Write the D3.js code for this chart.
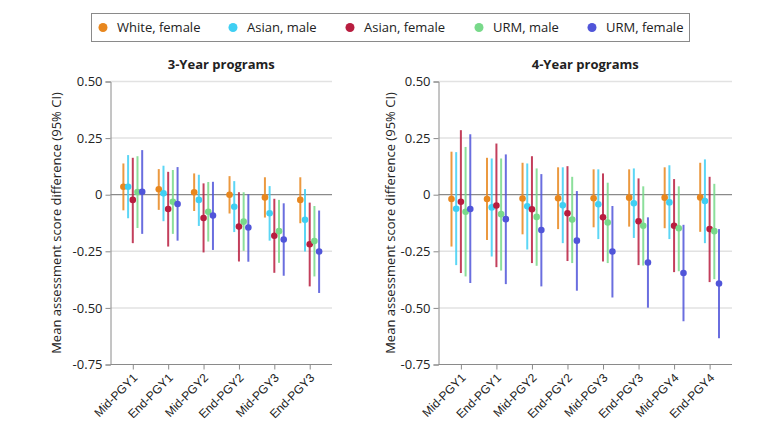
<!DOCTYPE html>
<html><head><meta charset="utf-8">
<script src="https://cdn.jsdelivr.net/npm/d3@7/dist/d3.min.js"></script>
<style>body{margin:0;background:#fff;}svg{display:block;font-family:"Open Sans",sans-serif;}</style>
</head><body><svg id="c" width="780" height="432"></svg>
<script>
const seriesNames = ["White, female","Asian, male","Asian, female","URM, male","URM, female"];
const seriesColors = ["#E8871E","#3FCFF3","#B81D3F","#78D98A","#5055D9"];
const yTicks = [0.5,0.25,0,-0.25,-0.5,-0.75];

const cats3 = ["Mid-PGY1","End-PGY1","Mid-PGY2","End-PGY2","Mid-PGY3","End-PGY3"];
// [estimate, lower, upper] per series per timepoint
const est3 = [
 [0.035, 0.024, 0.011, 0.000, -0.012, -0.023],
 [0.035, 0.006, -0.023, -0.053, -0.082, -0.111],
 [-0.023, -0.063, -0.103, -0.141, -0.181, -0.219],
 [0.012, -0.031, -0.075, -0.119, -0.161, -0.205],
 [0.013, -0.041, -0.092, -0.145, -0.198, -0.251]
];
const lo3 = [
 [-0.069, -0.067, -0.072, -0.083, -0.101, -0.126],
 [-0.104, -0.117, -0.138, -0.165, -0.203, -0.251],
 [-0.214, -0.229, -0.255, -0.295, -0.345, -0.405],
 [-0.147, -0.173, -0.207, -0.248, -0.301, -0.361],
 [-0.173, -0.203, -0.244, -0.296, -0.358, -0.434]
];
const hi3 = [
 [0.138, 0.113, 0.094, 0.082, 0.077, 0.077],
 [0.175, 0.128, 0.088, 0.060, 0.038, 0.025],
 [0.163, 0.101, 0.050, 0.011, -0.018, -0.035],
 [0.170, 0.109, 0.056, 0.011, -0.023, -0.050],
 [0.197, 0.122, 0.057, 0.002, -0.038, -0.070]
];

const cats4 = ["Mid-PGY1","End-PGY1","Mid-PGY2","End-PGY2","Mid-PGY3","End-PGY3","Mid-PGY4","End-PGY4"];
const est4 = [
 [-0.019, -0.019, -0.017, -0.016, -0.016, -0.013, -0.013, -0.012],
 [-0.062, -0.056, -0.051, -0.047, -0.042, -0.038, -0.034, -0.028],
 [-0.031, -0.048, -0.064, -0.082, -0.100, -0.117, -0.137, -0.152],
 [-0.075, -0.086, -0.098, -0.110, -0.123, -0.137, -0.148, -0.161],
 [-0.063, -0.108, -0.156, -0.203, -0.251, -0.300, -0.346, -0.392]
];
const lo4 = [
 [-0.229, -0.200, -0.175, -0.152, -0.144, -0.141, -0.148, -0.164],
 [-0.311, -0.273, -0.242, -0.214, -0.196, -0.191, -0.196, -0.214],
 [-0.346, -0.320, -0.302, -0.293, -0.295, -0.311, -0.342, -0.386],
 [-0.361, -0.335, -0.314, -0.302, -0.302, -0.313, -0.338, -0.373],
 [-0.390, -0.395, -0.405, -0.424, -0.454, -0.499, -0.559, -0.634]
];
const hi4 = [
 [0.190, 0.163, 0.141, 0.121, 0.112, 0.112, 0.121, 0.141],
 [0.188, 0.160, 0.138, 0.121, 0.112, 0.116, 0.130, 0.156],
 [0.285, 0.226, 0.170, 0.126, 0.094, 0.072, 0.069, 0.079],
 [0.211, 0.160, 0.116, 0.079, 0.053, 0.037, 0.037, 0.048],
 [0.267, 0.178, 0.091, 0.016, -0.050, -0.100, -0.133, -0.152]
];

const svg = d3.select("#c");
const y = d3.scaleLinear().domain([-0.75, 0.5]).range([364.5, 81.5]);
const fmt = v => v === 0 ? "0" : d3.format(".2f")(v).replace("−","-");
const inner = d3.scalePoint().domain(seriesNames).range([-9.4, 9.4]);
const color = d3.scaleOrdinal().domain(seriesNames).range(seriesColors);

function panel(cats, est, lo, hi, x0, x1, title){
  const x = d3.scalePoint().domain(cats).range([x0, x1]).padding(0.63);
  const g = svg.append("g");
  // gridlines
  g.selectAll("line.grid").data(yTicks.filter(t => t !== -0.75)).join("line")
    .attr("x1", x0).attr("x2", x1).attr("y1", d => y(d)).attr("y2", d => y(d))
    .attr("stroke", d => d === 0 ? "#8a8a8a" : "#e2e2e2").attr("stroke-width", d => d === 0 ? 1.3 : 1.5);
  // y axis
  const ya = g.append("g").attr("transform", `translate(${x0},0)`)
    .call(d3.axisLeft(y).tickValues(yTicks).tickFormat(fmt).tickSize(5).tickPadding(3));
  ya.select(".domain").attr("stroke", "#8a8a8a");
  ya.selectAll(".tick line").attr("stroke", "#8a8a8a");
  ya.selectAll(".tick text").attr("font-size", 13).attr("fill", "#222").attr("font-family", "Open Sans");
  // x axis
  const xa = g.append("g").attr("transform", `translate(0,${y(-0.75)})`)
    .call(d3.axisBottom(x).tickSize(5).tickSizeOuter(0));
  xa.select(".domain").attr("stroke", "#8a8a8a").attr("d", `M${x0},0H${x1}`);
  xa.selectAll(".tick line").attr("stroke", "#8a8a8a");
  xa.selectAll(".tick text").attr("font-size", 12).attr("fill", "#222")
    .attr("text-anchor", "end").attr("y", 0).attr("dy", 0)
    .attr("transform", "translate(5,14) rotate(-45)");
  // title
  g.append("text").attr("x", (x0 + x1) / 2).attr("y", 69).attr("text-anchor", "middle")
    .attr("font-size", 13).attr("font-weight", 700).attr("fill", "#222").text(title);
  // data
  const pts = [];
  seriesNames.forEach((s, si) => cats.forEach((c, ci) => pts.push({s, c, v: est[si][ci], l: lo[si][ci], h: hi[si][ci]})));
  g.selectAll("line.ci").data(pts).join("line")
    .attr("x1", d => x(d.c) + inner(d.s)).attr("x2", d => x(d.c) + inner(d.s))
    .attr("y1", d => y(d.l)).attr("y2", d => y(d.h))
    .attr("stroke", d => color(d.s)).attr("stroke-width", 2).attr("stroke-opacity", 0.85);
  g.selectAll("circle.pt").data(pts).join("circle")
    .attr("cx", d => x(d.c) + inner(d.s)).attr("cy", d => y(d.v)).attr("r", 3.3)
    .attr("fill", d => color(d.s));
  return x;
}
panel(cats3, est3, lo3, hi3, 110.5, 332, "3-Year programs");
panel(cats4, est4, lo4, hi4, 438.5, 732, "4-Year programs");

// y labels
[56, 390].forEach(cx => {
  svg.append("text").attr("transform", `translate(${cx},${y(-0.125)}) rotate(-90)`)
    .attr("text-anchor", "middle").attr("dy", "0.35em").attr("font-size", 13).attr("fill", "#222")
    .text("Mean assessment score difference (95% CI)");
});

// legend
const lg = svg.append("g");
lg.append("rect").attr("x", 91.5).attr("y", 13.5).attr("width", 598).attr("height", 28)
  .attr("fill", "#fff").attr("stroke", "#8a8a8a").attr("stroke-width", 1);
const legX = d3.scaleOrdinal().domain(seriesNames).range([103, 233, 350, 479, 592]);
const li = lg.selectAll("g.li").data(seriesNames).join("g").attr("transform", d => `translate(${legX(d)},27.5)`);
li.append("circle").attr("r", 4.5).attr("fill", d => color(d));
li.append("text").attr("x", 14).attr("dy", "0.35em").attr("font-size", 13).attr("fill", "#222").text(d => d);
</script></body></html>
